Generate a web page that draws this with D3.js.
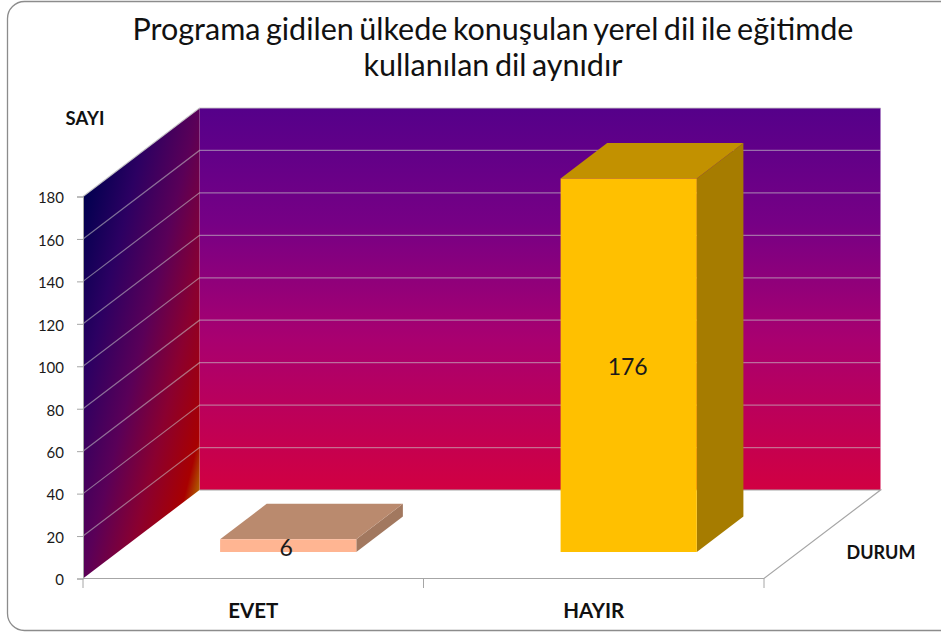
<!DOCTYPE html>
<html><head><meta charset="utf-8">
<script src="https://cdn.jsdelivr.net/npm/d3@7/dist/d3.min.js"></script>
<style>html,body{margin:0;padding:0;background:#fff}svg{display:block}text{font-family:Lato,"Open Sans",sans-serif}</style>
</head><body><svg id="c" width="941" height="632"></svg>
<script>
const categories = ["EVET", "HAYIR"];
const values = [6, 176];
const barFront = ["#FFB592", "#FFC000"];
const barTop = ["#BA8A6E", "#C29100"];
const barSide = ["#A2785F", "#A67C00"];
const yTicks = [0, 20, 40, 60, 80, 100, 120, 140, 160, 180];
const titleLines = ["Programa gidilen ülkede konuşulan yerel dil ile eğitimde", "kullanılan dil aynıdır"];

const svg = d3.select("#c");
const x = d3.scaleBand().domain(categories).range([83, 764]);
const y = d3.scaleLinear().domain([0, 180]).range([578.5, 196.5]);
const zx = d3.scaleLinear().domain([0, 1]).range([0, 116.5]);
const zy = d3.scaleLinear().domain([0, 1]).range([0, -88.5]);
const P = (px, py, z) => [px + zx(z), py + zy(z)];
const poly = pts => "M" + pts.map(p => p.join(",")).join("L") + "Z";
const x0 = x.range()[0], x1 = x.range()[1];
const barW = x.bandwidth() * 0.4, zA = 0.3, zB = 0.7;

const defs = svg.append("defs");
const grad = (id, attrs, stops) => {
  const g = defs.append("linearGradient").attr("id", id).attr("gradientUnits", "userSpaceOnUse");
  Object.entries(attrs).forEach(([k, v]) => g.attr(k, v));
  stops.forEach(([o, c]) => g.append("stop").attr("offset", o).attr("stop-color", c));
};
grad("back", {x1: 0, y1: y(180) + zy(1), x2: 0, y2: y(0) + zy(1)},
  [[0, "#55008A"], [0.3, "#760085"], [0.6, "#A80070"], [1, "#D10042"]]);
grad("side", {x1: 83, y1: 196.5, x2: 260.6, y2: 240.2},
  [[0, "#00004F"], [0.25, "#2C0062"], [0.5, "#5A0058"], [0.72, "#8A0030"], [0.93, "#A80000"], [1, "#B06000"]]);

// frame
svg.append("rect").attr("x", 7.5).attr("y", 1.5).attr("width", 960).attr("height", 629)
  .attr("rx", 17).attr("fill", "#fff").attr("stroke", "#8c8c8c").attr("stroke-width", 1.3);

// walls
svg.append("path").attr("d", poly([P(x0, y(0), 1), P(x1, y(0), 1), P(x1, y(180), 1), P(x0, y(180), 1)])).attr("fill", "url(#back)");
svg.append("path").attr("d", poly([P(x0, y(0), 0), P(x0, y(0), 1), P(x0, y(180), 1), P(x0, y(180), 0)])).attr("fill", "url(#side)");

// gridlines
svg.append("g").selectAll("path").data(yTicks.slice(1)).join("path")
  .attr("d", t => "M" + [P(x0, y(t), 0), P(x0, y(t), 1), P(x1, y(t), 1)].map(p => p.join(",")).join("L"))
  .attr("fill", "none").attr("stroke", "#c8c8c8").attr("stroke-opacity", t => t === 180 ? 0.9 : 0.55).attr("stroke-width", 1.2);

// floor edges
svg.append("path").attr("d", "M" + [P(x0, y(0), 1), P(x1, y(0), 1), P(x1, y(0), 0), P(x0, y(0), 0)].map(p => p.join(",")).join("L"))
  .attr("fill", "none").attr("stroke", "#a6a6a6").attr("stroke-width", 1.2);

// bars
const bars = svg.append("g").selectAll("g").data(categories.map((c, i) => ({c, v: values[i], i}))).join("g");
bars.each(function (d) {
  const g = d3.select(this);
  const l = x(d.c) + (x.bandwidth() - barW) / 2, r = l + barW;
  const b = y(0), t = y(d.v);
  g.append("path").attr("d", poly([P(r, b, zA), P(r, b, zB), P(r, t, zB), P(r, t, zA)])).attr("fill", barSide[d.i]);
  g.append("path").attr("d", poly([P(l, t, zA), P(r, t, zA), P(r, t, zB), P(l, t, zB)])).attr("fill", barTop[d.i]);
  g.append("path").attr("d", poly([P(l, b, zA), P(r, b, zA), P(r, t, zA), P(l, t, zA)])).attr("fill", barFront[d.i]);
  const c = P((l + r) / 2, (b + t) / 2, zA);
  g.append("text").attr("x", c[0] - 2 + (d.i ? 1 : 0)).attr("y", c[1] + (d.i ? 0.5 : 1.5)).attr("text-anchor", "middle")
    .attr("dominant-baseline", "central").attr("font-size", 23).attr("fill", "#1a1a1a").text(d.v);
});

// y axis
const yAxis = svg.append("g").attr("transform", `translate(${x0},0)`)
  .call(d3.axisLeft(y).tickValues(yTicks).tickSize(6).tickPadding(13));
yAxis.select(".domain").attr("stroke", "#a6a6a6");
yAxis.selectAll(".tick line").attr("stroke", "#a6a6a6");
yAxis.selectAll("text").attr("font-size", 15).attr("fill", "#1a1a1a").attr("font-family", "Lato").attr("dy", "0.42em");

// x axis
const xAxis = svg.append("g").attr("transform", `translate(0,${y(0)})`)
  .call(d3.axisBottom(x).tickSize(0).tickPadding(25));
xAxis.select(".domain").remove();
xAxis.selectAll("text").attr("font-size", 20.5).attr("font-weight", 700).attr("fill", "#111").attr("font-family", "Lato");
svg.append("g").selectAll("line").data([x0, x0 + x.step(), x1]).join("line")
  .attr("x1", d => d).attr("x2", d => d).attr("y1", y(0)).attr("y2", y(0) + 9.5).attr("stroke", "#a6a6a6");

// titles
svg.append("g").selectAll("text").data(titleLines).join("text")
  .attr("x", 493).attr("y", (d, i) => 40 + i * 36).attr("text-anchor", "middle")
  .attr("font-size", 30.5).attr("word-spacing", -2.3).attr("fill", "#111").text(d => d);
svg.append("text").attr("x", 85).attr("y", 124.5).attr("text-anchor", "middle").attr("font-size", 18.5).attr("font-weight", 700).attr("fill", "#111").text("SAYI");
svg.append("text").attr("x", 881).attr("y", 559).attr("text-anchor", "middle").attr("font-size", 18).attr("font-weight", 700).attr("fill", "#111").text("DURUM");
</script></body></html>
